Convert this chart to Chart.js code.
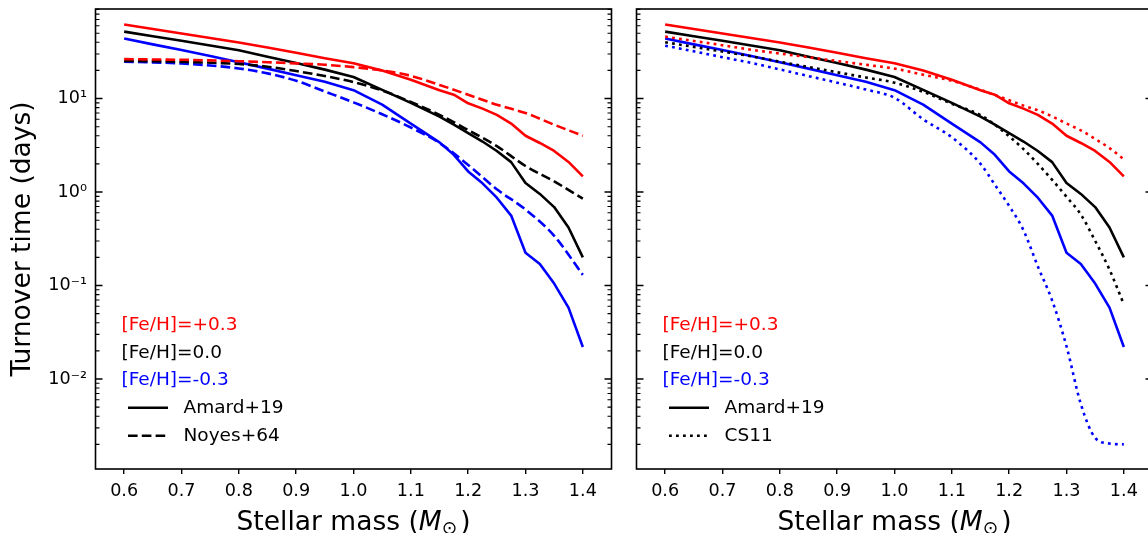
<!DOCTYPE html>
<html><head><meta charset="utf-8">
<script src="https://cdn.jsdelivr.net/npm/chart.js@4.4.0/dist/chart.umd.min.js"></script>
<style>
html,body{margin:0;padding:0;background:#fff;overflow:hidden;width:1148px;height:533px;}
#wrap{position:relative;width:1148px;height:533px;overflow:hidden;background:#fff;}
#c1{position:absolute;left:0;top:0;}
#c2{position:absolute;left:620px;top:0;}
</style></head><body>
<div id="wrap"><canvas id="c1" width="620" height="533"></canvas><canvas id="c2" width="540" height="533"></canvas></div>
<script>
// ---- data ----
const massGrid = [0.60,0.65,0.70,0.75,0.80,0.85,0.90,0.95,1.00,1.05,1.10,1.15,1.175,1.20,1.225,1.25,1.275,1.30,1.325,1.35,1.375,1.40];
const amardP03 = [62,55.5,49.7,44.5,39.8,35.1,30.9,27.0,23.9,20.0,15.9,12.3,11.0,8.9,7.8,6.7,5.4,4.0,3.35,2.75,2.1,1.47];
const amardZ00 = [52,46.5,41.5,37,32.8,28,24,20.4,17.0,12.4,9.0,6.4,5.25,4.27,3.47,2.75,2.09,1.25,0.955,0.69,0.417,0.2];
const amardM03 = [44,38,33,28.5,24.5,20.9,17.8,15.1,12.3,8.6,5.4,3.4,2.5,1.66,1.24,0.87,0.56,0.224,0.17,0.105,0.058,0.022];

const massNoyes = [0.60,0.65,0.70,0.75,0.80,0.85,0.90,0.95,1.00,1.05,1.10,1.15,1.20,1.25,1.30,1.35,1.40];
const noyesP03 = [26.4,26.2,26.0,25.6,25.1,24.5,23.8,23.0,21.7,20.0,17.5,14.0,11.0,8.6,7.0,5.25,4.0];
const noyesZ00 = [25.3,25.1,24.7,24.2,23.4,21.9,19.7,17.4,15.0,12.2,9.2,6.7,4.6,3.1,1.9,1.3,0.85];
const noyesM03 = [24.8,24.4,23.7,22.6,21.0,18.6,15.5,11.9,9.1,6.8,4.9,3.35,1.95,1.07,0.65,0.34,0.13];

const cs11P03 = [46,41.3,37.2,33.3,30.3,27.7,25.2,23.0,20.9,18.0,15.5,12.4,10.9,9.6,8.4,7.5,6.45,5.4,4.57,3.7,2.95,2.24];
const cs11Z00 = [40,35.7,31.8,28.3,24.8,21.8,19.1,16.8,14.8,11.8,8.8,6.65,5.25,3.94,2.88,2.0,1.35,0.89,0.575,0.30,0.148,0.063];
const cs11M03 = [36.8,32,27.7,24.1,20.5,17.4,14.8,12.5,10.2,6.0,3.85,2.0,1.2,0.71,0.39,0.16,0.069,0.0224,0.0054,0.00235,0.00204,0.0020];

const xTickValues = [0.6,0.7,0.8,0.9,1.0,1.1,1.2,1.3,1.4];
const yMajorTicks = [0.01,0.1,1,10];
const yTickLabels = ['10\u207B\u00B2','10\u207B\u00B9','10\u2070','10\u00B9'];
const feLabels = ['[Fe/H]=+0.3','[Fe/H]=0.0','[Fe/H]=-0.3'];
const colors = ['#ff0000','#000000','#0000ff'];
const xTitle = ['Stellar mass (', 'M', '\u2299', ')'];
const yTitle = 'Turnover time (days)';

const FONT = '"DejaVu Sans", "Liberation Sans", sans-serif';
const LW = 2.6;

function pts(xs, ys){ return xs.map((x,i)=>({x:x, y:ys[i]})); }

function ds(xs, ys, color, dash, smooth){
  return {data: pts(xs, ys), borderColor: color, backgroundColor: color,
    borderWidth: LW, borderDash: dash, pointRadius: 0, fill: false,
    borderJoinStyle: 'round', borderCapStyle: 'butt',
    cubicInterpolationMode: smooth ? 'monotone' : 'default', tension: 0};
}

const decorPlugin = {
  id: 'decor',
  afterDraw(chart){
    const o = chart.options.plugins.decor;
    const ctx = chart.ctx, ca = chart.chartArea, ys = chart.scales.y;
    ctx.save();
    ctx.strokeStyle = '#000';
    // inward y ticks on both spines
    for (const t of ys.ticks){
      const p = ys.getPixelForValue(t.value);
      if (p < ca.top - 0.5 || p > ca.bottom + 0.5) continue;
      const len = t.major ? 7 : 4;
      ctx.lineWidth = t.major ? 1.5 : 1.1;
      ctx.beginPath();
      ctx.moveTo(ca.left, p); ctx.lineTo(ca.left + len, p);
      ctx.moveTo(ca.right, p); ctx.lineTo(ca.right - len, p);
      ctx.stroke();
    }
    // frame
    ctx.lineWidth = 1.6;
    ctx.strokeRect(ca.left, ca.top, ca.right - ca.left, ca.bottom - ca.top);
    // legend
    ctx.textBaseline = 'middle';
    ctx.textAlign = 'left';
    ctx.font = '18.5px ' + FONT;
    const ly = [ca.bottom - 144, ca.bottom - 116.3, ca.bottom - 89, ca.bottom - 61.3, ca.bottom - 33.3];
    for (let i = 0; i < 3; i++){
      ctx.fillStyle = colors[i];
      ctx.fillText(feLabels[i], ca.left + 26, ly[i]);
    }
    ctx.fillStyle = '#000';
    const handles = [[[], 'Amard+19'], [o.dash, o.label2]];
    for (let k = 0; k < 2; k++){
      ctx.beginPath();
      ctx.setLineDash(handles[k][0]);
      ctx.lineWidth = LW; ctx.lineCap = 'butt';
      ctx.moveTo(ca.left + 32.5, ly[3 + k]); ctx.lineTo(ca.left + 72.5, ly[3 + k]);
      ctx.stroke();
      ctx.setLineDash([]);
      ctx.fillText(handles[k][1], ca.left + 88, ly[3 + k]);
    }
    // x title with math-like parts
    ctx.textBaseline = 'alphabetic';
    const big = '26.5px ' + FONT, ital = 'oblique 26.5px ' + FONT, small = '18.5px ' + FONT;
    ctx.font = big; const w0 = ctx.measureText(xTitle[0]).width, w3 = ctx.measureText(xTitle[3]).width;
    ctx.font = ital; const w1 = ctx.measureText(xTitle[1]).width;
    ctx.font = small; const w2 = ctx.measureText(xTitle[2]).width;
    const gap = 3;
    const total = w0 + w1 + w2 + gap + w3;
    let x = (ca.left + ca.right) / 2 - total / 2;
    const by = 529.5;
    ctx.font = big; ctx.fillText(xTitle[0], x, by); x += w0;
    ctx.font = ital; ctx.fillText(xTitle[1], x, by); x += w1;
    ctx.font = small; ctx.fillText(xTitle[2], x, by + 4); x += w2 + gap;
    ctx.font = big; ctx.fillText(xTitle[3], x, by);
    // y title
    if (o.yTitle){
      ctx.save();
      ctx.translate(30, (ca.top + ca.bottom) / 2);
      ctx.rotate(-Math.PI / 2);
      ctx.textAlign = 'center';
      ctx.font = big;
      ctx.fillText(yTitle, 0, 0);
      ctx.restore();
    }
    ctx.restore();
  }
};

function makeChart(id, datasets, cfg){
  return new Chart(document.getElementById(id), {
    type: 'line',
    data: {datasets: datasets},
    plugins: [decorPlugin],
    options: {
      responsive: false, animation: false, devicePixelRatio: 1,
      layout: {padding: {left: 0, right: cfg.padRight, top: 9, bottom: 0}},
      plugins: {legend: {display: false}, tooltip: {enabled: false},
        decor: {label2: cfg.label2, dash: cfg.dash, yTitle: cfg.showYTitle}},
      scales: {
        x: {type: 'linear', min: 0.55, max: 1.45,
          afterBuildTicks: s => { s.ticks = xTickValues.map(v => ({value: v})); },
          afterFit: s => { s.height = 64; s.paddingLeft = 0; s.paddingRight = 0; },
          grid: {display: true, drawOnChartArea: false, drawTicks: true, tickLength: 5, color: '#000', lineWidth: 1.4},
          border: {display: false},
          ticks: {color: '#000', font: {family: FONT, size: 17.6}, padding: 7, maxRotation: 0, autoSkip: false,
            callback: v => Number(v).toFixed(1)}
        },
        y: {type: 'logarithmic', min: 0.00109, max: 90.8,
          afterBuildTicks: s => {
            const t = [];
            for (let e = -3; e <= 1; e++){
              for (let m = 1; m <= 9; m++){
                const v = m * Math.pow(10, e);
                if (v >= 0.00109 && v <= 90.8) t.push({value: v, major: m === 1});
              }
            }
            s.ticks = t;
          },
          afterFit: s => { s.width = cfg.yWidth; s.paddingTop = 0; s.paddingBottom = 0; },
          grid: {display: false, drawTicks: false},
          border: {display: false},
          ticks: {autoSkip: false, color: '#000', font: {family: FONT, size: 17.6}, padding: 8.5,
            display: cfg.showYLabels,
            callback: v => {
              for (let i = 0; i < yMajorTicks.length; i++){
                if (Math.abs(Math.log10(v) - Math.log10(yMajorTicks[i])) < 1e-6) return yTickLabels[i];
              }
              return '';
            }}
        }
      }
    }
  });
}

makeChart('c1', [
  ds(massGrid, amardP03, colors[0], [], false),
  ds(massNoyes, noyesP03, colors[0], [9.6, 4.2], true),
  ds(massGrid, amardZ00, colors[1], [], false),
  ds(massNoyes, noyesZ00, colors[1], [9.6, 4.2], true),
  ds(massGrid, amardM03, colors[2], [], false),
  ds(massNoyes, noyesM03, colors[2], [9.6, 4.2], true)
], {padRight: 8.5, yWidth: 95.5, label2: 'Noyes+64', dash: [9.6, 4.2], showYTitle: true, showYLabels: true});

makeChart('c2', [
  ds(massGrid, amardP03, colors[0], [], false),
  ds(massGrid, cs11P03, colors[0], [2.8, 4.2], true),
  ds(massGrid, amardZ00, colors[1], [], false),
  ds(massGrid, cs11Z00, colors[1], [2.8, 4.2], true),
  ds(massGrid, amardM03, colors[2], [], false),
  ds(massGrid, cs11M03, colors[2], [2.8, 4.2], true)
], {padRight: 7.5, yWidth: 16.5, label2: 'CS11', dash: [2.8, 4.2], showYTitle: false, showYLabels: false});
</script>
</body></html>
